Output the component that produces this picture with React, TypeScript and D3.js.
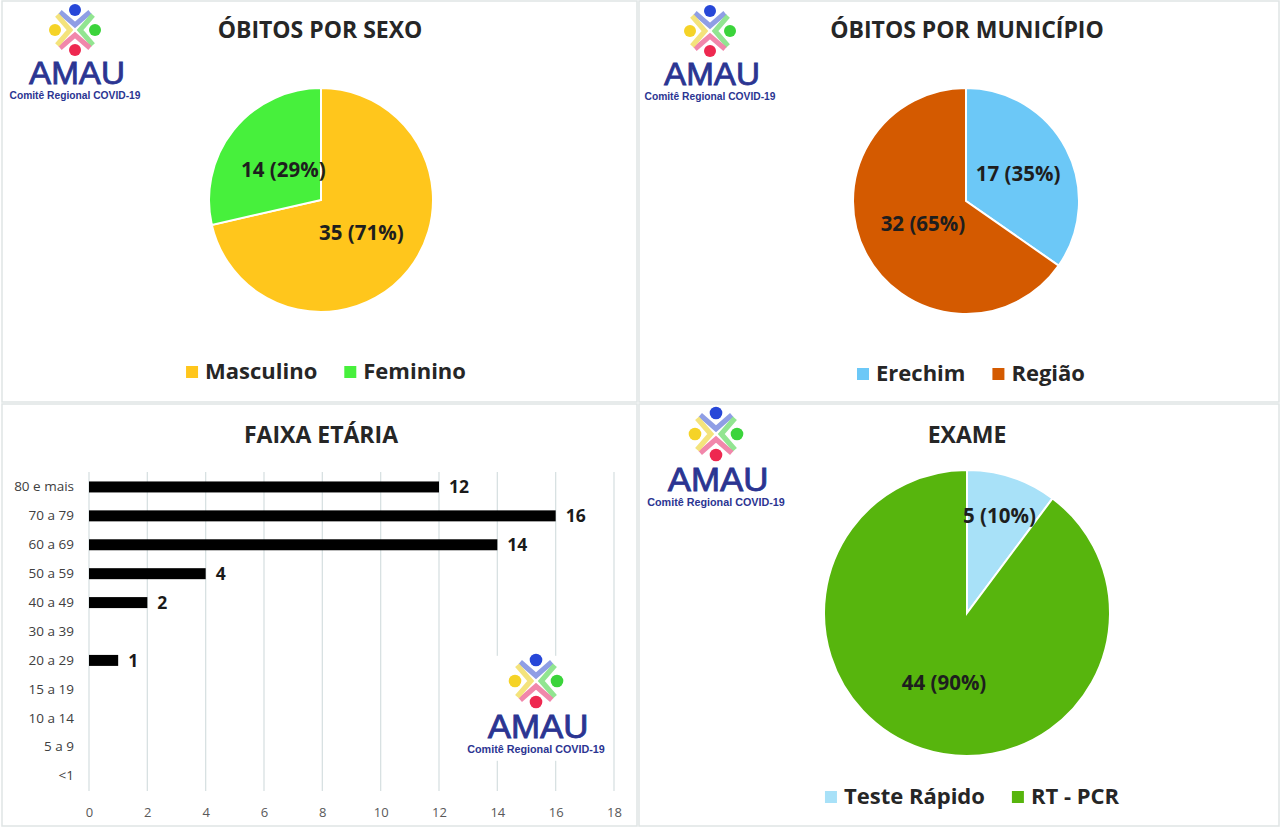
import React, { useEffect, useRef } from 'react';
import * as d3 from 'd3';

// Óbitos por sexo
const sexoLabels = ['Masculino', 'Feminino'];
const sexoValues = [35, 14];
const sexoColors = ['#FFC61C', '#47F03C'];

// Óbitos por município
const municipioLabels = ['Erechim', 'Região'];
const municipioValues = [17, 32];
const municipioColors = ['#6CC8F7', '#D45A00'];

// Exame
const exameLabels = ['Teste Rápido', 'RT - PCR'];
const exameValues = [5, 44];
const exameColors = ['#A8E1F8', '#57B50D'];

// Faixa etária
const faixaLabels = ['80 e mais', '70 a 79', '60 a 69', '50 a 59', '40 a 49', '30 a 39', '20 a 29', '15 a 19', '10 a 14', '5 a 9', '<1'];
const faixaValues = [12, 16, 14, 4, 2, 0, 1, 0, 0, 0, 0];
const faixaTicks = [0, 2, 4, 6, 8, 10, 12, 14, 16, 18];

const FONT = "'Open Sans', 'Noto Sans', sans-serif";
const LOGO_FONT = "'Liberation Sans', Arial, sans-serif";
const TEXT = '#262626';
const LOGO_BLUE = '#2B3592';

type Sel = d3.Selection<SVGGElement, unknown, null, undefined>;

function drawLogo(svg: Sel, cx: number, cy: number, s: number, withBg = false) {
  const g = svg.append('g').attr('transform', `translate(${cx},${cy}) scale(${s})`);
  if (withBg) {
    g.append('rect').attr('x', -68).attr('y', -24).attr('width', 138).attr('height', 100).attr('fill', '#fff');
  }
  const parts = [
    { dx: 0, dy: -1, arm: '#8393E2', dot: '#2747D8' },
    { dx: 1, dy: 0, arm: '#86E285', dot: '#3BD43B' },
    { dx: 0, dy: 1, arm: '#EF7AA2', dot: '#EE2850' },
    { dx: -1, dy: 0, arm: '#F3E06E', dot: '#F5D327' },
  ];
  parts.forEach((p) => {
    const px = -p.dy, py = p.dx;
    const vx = p.dx * 5, vy = p.dy * 5;
    g.append('path')
      .attr('d', `M${p.dx * 18 + px * 15},${p.dy * 18 + py * 15}L${vx},${vy}L${p.dx * 18 - px * 15},${p.dy * 18 - py * 15}`)
      .attr('fill', 'none')
      .attr('stroke', p.arm)
      .attr('stroke-width', 5)
      .attr('opacity', 0.9);
    g.append('circle').attr('cx', p.dx * 20).attr('cy', p.dy * 20).attr('r', 6).attr('fill', p.dot);
  });
  g.append('text')
    .attr('x', 2).attr('y', 54)
    .attr('text-anchor', 'middle')
    .attr('font-family', LOGO_FONT)
    .attr('font-size', 32)
    .attr('textLength', 96)
    .attr('lengthAdjust', 'spacingAndGlyphs')
    .attr('fill', LOGO_BLUE)
    .attr('stroke', LOGO_BLUE)
    .attr('stroke-width', 0.8)
    .text('AMAU');
  g.append('text')
    .attr('x', 0).attr('y', 69)
    .attr('text-anchor', 'middle')
    .attr('font-family', LOGO_FONT)
    .attr('font-weight', 'bold')
    .attr('font-size', 10)
    .attr('textLength', 131)
    .attr('lengthAdjust', 'spacingAndGlyphs')
    .attr('fill', LOGO_BLUE)
    .text('Comitê Regional COVID-19');
}

function drawTitle(svg: Sel, x: number, y: number, t: string) {
  svg.append('text')
    .attr('x', x).attr('y', y)
    .attr('text-anchor', 'middle')
    .attr('font-family', FONT)
    .attr('font-weight', 'bold')
    .attr('font-size', 23)
    .attr('fill', TEXT)
    .text(t);
}

function drawPie(
  svg: Sel,
  cx: number,
  cy: number,
  r: number,
  labels: string[],
  values: number[],
  colors: string[],
  labelK: number[],
  legendY: number,
) {
  const total = d3.sum(values);
  const pie = d3.pie<number>().sort(null)(values);
  const arc = d3.arc<d3.PieArcDatum<number>>().innerRadius(0).outerRadius(r);
  const g = svg.append('g').attr('transform', `translate(${cx},${cy})`);
  g.selectAll('path')
    .data(pie)
    .join('path')
    .attr('d', arc)
    .attr('fill', (_, i) => colors[i])
    .attr('stroke', '#fff')
    .attr('stroke-width', 2);
  pie.forEach((d, i) => {
    const a = (d.startAngle + d.endAngle) / 2;
    const k = r * labelK[i];
    g.append('text')
      .attr('x', Math.sin(a) * k)
      .attr('y', -Math.cos(a) * k)
      .attr('dy', '0.36em')
      .attr('text-anchor', 'middle')
      .attr('font-family', FONT)
      .attr('font-weight', 'bold')
      .attr('font-size', 20.5)
      .attr('fill', '#1E1E1E')
      .text(`${d.data} (${Math.round((d.data / total) * 100)}%)`);
  });

  // legend, centred below the pie
  const lg = svg.append('g');
  let x = 0;
  labels.forEach((l, i) => {
    lg.append('rect').attr('x', x).attr('y', legendY - 13).attr('width', 12).attr('height', 12).attr('fill', colors[i]);
    const t = lg.append('text')
      .attr('x', x + 19).attr('y', legendY)
      .attr('font-family', FONT)
      .attr('font-weight', 'bold')
      .attr('font-size', 22)
      .attr('fill', TEXT)
      .text(l);
    const w = (t.node() as SVGTextElement).getComputedTextLength();
    x += 19 + w + 27;
  });
  const width = x - 27;
  lg.attr('transform', `translate(${cx + 5 - width / 2},0)`);
}

function drawBars(svg: Sel) {
  const x = d3.scaleLinear().domain([0, 18]).range([89, 614]);
  const y = d3.scaleBand<string>().domain(faixaLabels).range([472.5, 790.5]).paddingInner(0.62).paddingOuter(0.31);
  const g = svg.append('g');

  g.selectAll('line.grid')
    .data(faixaTicks)
    .join('line')
    .attr('class', 'grid')
    .attr('x1', (d) => x(d)).attr('x2', (d) => x(d))
    .attr('y1', 472).attr('y2', 791)
    .attr('stroke', '#D8E1E2')
    .attr('stroke-width', 1.3);

  const ax = g.append('g')
    .attr('transform', 'translate(0,805)')
    .call(d3.axisBottom(x).tickValues(faixaTicks).tickSize(0).tickPadding(0));
  ax.select('.domain').remove();
  ax.selectAll('text')
    .attr('font-family', FONT)
    .attr('font-size', 13)
    .attr('fill', '#595959')
    .attr('dy', '0.95em');

  const ay = g.append('g')
    .attr('transform', 'translate(74,0)')
    .call(d3.axisLeft(y).tickSize(0).tickPadding(0));
  ay.select('.domain').remove();
  ay.selectAll('text')
    .attr('font-family', FONT)
    .attr('font-size', 13.5)
    .attr('fill', '#404040');

  g.selectAll('rect.bar')
    .data(faixaValues)
    .join('rect')
    .attr('class', 'bar')
    .attr('x', x(0))
    .attr('y', (_, i) => y(faixaLabels[i]) as number)
    .attr('width', (d) => x(d) - x(0))
    .attr('height', y.bandwidth())
    .attr('fill', '#000');

  g.selectAll('text.val')
    .data(faixaValues.map((v, i) => ({ v, c: faixaLabels[i] })).filter((d) => d.v > 0))
    .join('text')
    .attr('class', 'val')
    .attr('x', (d) => x(d.v) + 10)
    .attr('y', (d) => (y(d.c) as number) + y.bandwidth() / 2)
    .attr('dy', '0.36em')
    .attr('font-family', FONT)
    .attr('font-weight', 'bold')
    .attr('font-size', 17.5)
    .attr('fill', '#1A1A1A')
    .text((d) => d.v);
}

export default function App() {
  const ref = useRef<SVGSVGElement | null>(null);

  useEffect(() => {
    if (!ref.current) return;
    const root = d3.select(ref.current);
    root.selectAll('*').remove();
    const svg = root.append('g') as unknown as Sel;

    svg.append('rect').attr('width', 1280).attr('height', 828).attr('fill', '#fff');

    // panel frames
    const frames = [
      [2, 1, 635, 401],
      [639, 1, 640, 401],
      [2, 404, 635, 422],
      [639, 404, 640, 422],
    ];
    frames.forEach(([fx, fy, fw, fh]) => {
      svg.append('rect')
        .attr('x', fx).attr('y', fy).attr('width', fw).attr('height', fh)
        .attr('fill', 'none').attr('stroke', '#DFE5E5').attr('stroke-width', 1.5);
    });

    drawTitle(svg, 320, 38, 'ÓBITOS POR SEXO');
    drawTitle(svg, 967, 38, 'ÓBITOS POR MUNICÍPIO');
    drawTitle(svg, 321, 443, 'FAIXA ETÁRIA');
    drawTitle(svg, 967, 443, 'EXAME');

    drawPie(svg, 321, 200, 112, sexoLabels, sexoValues, sexoColors, [0.46, 0.43], 379);
    drawPie(svg, 966, 201, 113, municipioLabels, municipioValues, municipioColors, [0.52, 0.43], 381);
    drawPie(svg, 967, 613, 143, exameLabels, exameValues, exameColors, [0.72, 0.51], 804);

    drawBars(svg);

    drawLogo(svg, 75, 30, 1);
    drawLogo(svg, 710, 31, 1);
    drawLogo(svg, 536, 681, 1.05, true);
    drawLogo(svg, 716, 434, 1.05);
  }, []);

  return (
    <svg
      ref={ref}
      width={1280}
      height={828}
      viewBox="0 0 1280 828"
      style={{ position: 'absolute', left: 0, top: 0, display: 'block' }}
    />
  );
}
